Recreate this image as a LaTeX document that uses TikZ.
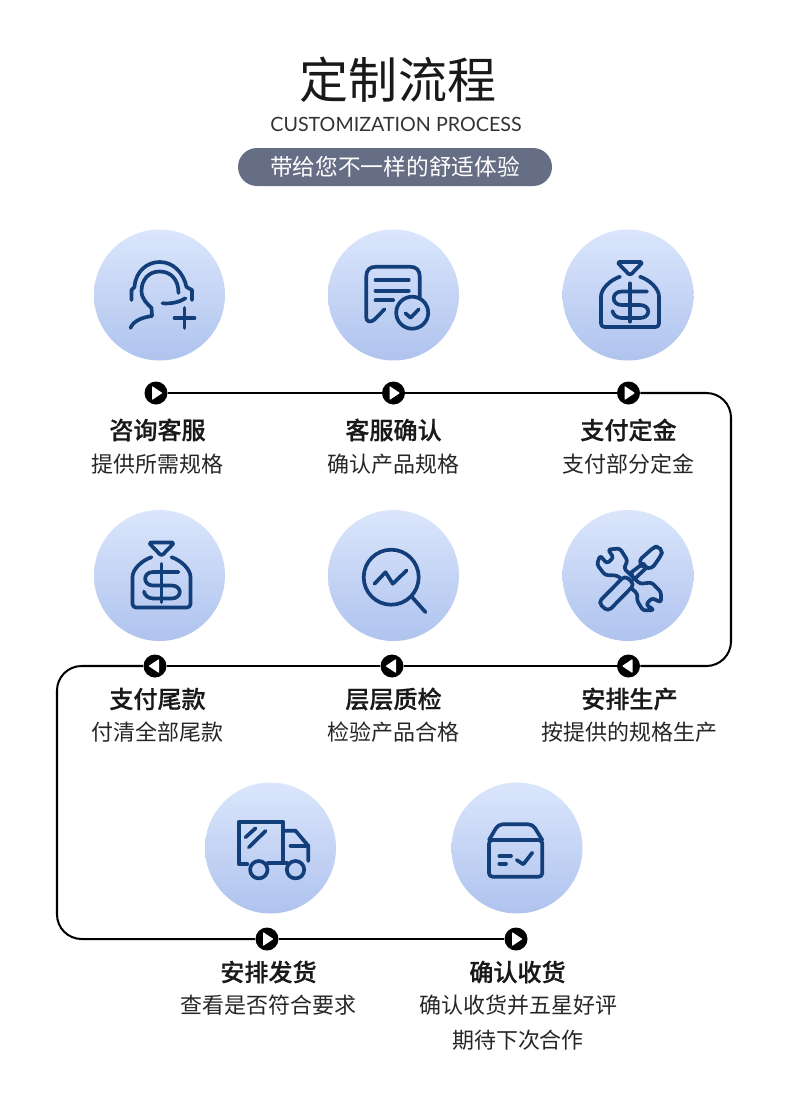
\documentclass[tikz,border=0pt]{standalone}
\usepackage{fontspec}
\usepackage{xcolor}
\setmainfont{Noto Sans CJK SC}
\newfontfamily\medfont[FakeBold=0.6]{Noto Sans CJK SC Medium}
\newfontfamily\enfont{Lato}
\usetikzlibrary{positioning, arrows.meta}
\definecolor{IconBlue}{RGB}{18,62,122}
\definecolor{DiscTop}{RGB}{219,230,252}
\definecolor{DiscBottom}{RGB}{175,195,238}
\definecolor{DiscMid}{RGB}{192,209,244}
\definecolor{PillGrey}{RGB}{102,110,133}
\tikzset{
  disc/.style={circle, minimum size=26.2mm, inner sep=0pt, top color=DiscTop, bottom color=DiscBottom},
  icon/.style={draw=IconBlue, line width=2.1pt, line cap=round, line join=round},
  flowdot/.style={circle, fill=black, minimum size=4.6mm, inner sep=0pt},
  dotright/.style={flowdot, path picture={\fill[white, rounded corners=0.4pt, shift={(path picture bounding box.center)}]
    (-4,-7) -- (6.5,0) -- (-4,7) -- cycle;}},
  dotleft/.style={flowdot, path picture={\fill[white, rounded corners=0.4pt, shift={(path picture bounding box.center)}]
    (4,-7) -- (-6.5,0) -- (4,7) -- cycle;}},
  flowline/.style={draw=black, line width=1.15pt, rounded corners=14pt},
  headtxt/.style={font=\medfont\fontsize{13.7}{16}\selectfont, text=black!90, inner sep=0pt},
  subtxt/.style={font=\fontsize{12.5}{15}\selectfont, text=black!85, inner sep=0pt},
  pics/iconhead/.style={code={
    \draw[icon] (-28,5) -- (-28,-5) -- (-25,-8) .. controls (-24,-24) and (-12,-33) .. (0,-33)
      .. controls (14,-33) and (24,-22) .. (27,-8) -- (32.5,-5) -- (32.5,5);
    \draw[icon] (19,-2) .. controls (19,-16) and (11,-23.5) .. (0,-23.5) .. controls (-11,-23.5) and (-18,-15) .. (-18,-4)
      .. controls (-18,4) and (-12,9) .. (-8,13) -- (-7.5,21) .. controls (-15,22) and (-26,25) .. (-29,33);
    \draw[icon] (3,8.3) .. controls (12,9) and (20,7) .. (26,3.3);
    \draw[icon] (15,23) -- (35,23) (25,13) -- (25,33);
  }},
  pics/icondoc/.style={code={
    \draw[icon] (-9,14.3) -- (-19,24.5) .. controls (-23,28) and (-27.3,27) .. (-27.3,22) -- (-27.3,-18)
      .. controls (-27.3,-25) and (-24,-28.3) .. (-17,-28.3) -- (16,-28.3)
      .. controls (23,-28.3) and (26.3,-25) .. (26.3,-18) -- (26.3,3.3);
    \draw[icon] (-18,-15) -- (15.3,-15) (-18,-4.3) -- (15.3,-4.3) (-18,5.3) -- (-0.3,5.3);
    \draw[icon] (18.7,17.7) circle[radius=16];
    \draw[icon] (12,18.3) -- (17,22.7) -- (25.3,14.3);
  }},
  pics/iconbag/.style={code={
    \draw[icon, rounded corners=1.5pt] (-11,-33) -- (15,-33) -- (2,-19.5) -- cycle;
    \draw[icon, rounded corners=2pt] (-8,-18.3) .. controls (-18,-15) and (-27,-6) .. (-27,5) -- (-27,32)
      -- (31,32) -- (31,5) .. controls (31,-6) and (22,-15) .. (12,-18.3);
    \draw[icon] (2,-11.7) -- (2,26.7);
    \draw[icon] (19,-3.5) -- (-6.3,-3.5) .. controls (-17,-3.5) and (-17,10) .. (-6.3,10) -- (12,10)
      .. controls (23,10) and (23,23) .. (12,23) -- (-6,23) .. controls (-11,23) and (-15,20) .. (-15.5,16);
  }},
  pics/iconlens/.style={code={
    \draw[icon] (-2.3,1.7) circle[radius=27.5];
    \draw[icon] (18.7,21.7) -- (32,36.7);
    \draw[icon] (-19,8.3) -- (-8,-3.3) -- (-0.7,8.3) -- (13,-5);
  }},
  pics/icontools/.style={code={
    \draw[icon, rounded corners=1.5pt] (-20,-26) -- (-8,-27) -- (-0.5,-15) -- (-4,-7) -- (12,8.3)
      -- (23.7,7) -- (33,16.7) -- (33,27) -- (24,22.5) -- (18,29) -- (26,34.5) -- (15,35)
      -- (9,25) -- (9.5,18.3) -- (-10.7,0) -- (-23,-0.5) -- (-31,-11) -- (-28,-20)
      -- (-21,-12) -- (-14.5,-18) -- cycle;
    \draw[icon, fill=DiscMid, rounded corners=2.5pt] (-29.7,27) -- (-3,0) -- (6.5,9) -- (-20,36) -- cycle;
    \draw[icon, fill=DiscMid] (3,-3) -- (15,-12) -- (18.7,-8) -- (6,4) -- cycle;
    \draw[icon, rounded corners=2pt] (14,-9) -- (11,-15) -- (26,-28.5) -- (30,-29) -- (34.5,-24.5)
      -- (33,-20) -- (24,-7) -- (17,-8);
  }},
  pics/icontruck/.style={code={
    \draw[icon] (-23.3,16) -- (-31.7,16) -- (-31.7,-26.3) -- (12.7,-26.3) -- (12.7,15.3) -- (-2.7,15.3);
    \draw[icon] (12.7,-17.3) -- (25,-17.3) -- (37.7,-2.3) -- (37.7,13);
    \draw[icon] (20,-2.3) -- (37.7,-2.3) (12.7,15.3) -- (16.7,15.3);
    \draw[icon] (-11.7,21.7) circle[radius=8.7] (25,21.7) circle[radius=8.7];
    \draw[icon] (-25,-10.7) -- (-15,-19.7) (-21.7,-0.7) -- (-5,-17);
  }},
  pics/iconbox/.style={code={
    \draw[icon, rounded corners=2pt] (-28,-8) -- (25.3,-8) -- (25.3,28.7) -- (-28,28.7) -- cycle;
    \draw[icon, rounded corners=2.5pt] (-28,-8) -- (-18.7,-23.7) -- (15.7,-23.7) -- (25.3,-8);
    \draw[icon] (-17.7,8) -- (-6,8) (-17.7,15.7) -- (-11,15.7);
    \draw[icon] (-0.3,12) -- (6.3,16.3) -- (15.3,4.7);
  }},
}

\begin{document}
\begin{tikzpicture}[x=0.2mm, y=-0.2mm]
  \useasboundingbox (0,0) rectangle (790,1104);
  % heading
  \node[font=\fontsize{27.9}{32}\selectfont, text=black!90, inner sep=0pt] (title) at (398,80) {定制流程};
  \node[font=\enfont\fontsize{11.2}{14}\selectfont, text=black!80, inner sep=0pt] (entitle) at (396,124) {CUSTOMIZATION PROCESS};
  \node[fill=PillGrey, rounded corners=10.8pt, minimum width=62.8mm, minimum height=7.6mm, inner sep=0pt,
    font=\fontsize{12.9}{15}\selectfont, text=white] (pill) at (395,167) {带给您不一样的舒适体验};
  % discs and icons
  \foreach \x/\y/\ic [count=\k from 1] in {159.5/295/iconhead,393.5/295/icondoc,628/295/iconbag,
      628/575.5/icontools,393.5/575.5/iconlens,159.5/575.5/iconbag,270.5/848/icontruck,517/848/iconbox}
  {
    \node[disc] (disc\k) at (\x,\y) {};
    \pic at (disc\k.center) {\ic};
  }
  % dots on the line
  \foreach \x/\y/\st [count=\k from 1] in {156/393/dotright,393.5/393/dotright,628.5/393/dotright,
      628.5/666/dotleft,392/666/dotleft,155/666/dotleft,267/939/dotright,516/939/dotright}
    \node[\st] (dot\k) at (\x,\y) {};
  \coordinate (turnNE) at (731,393);
  \coordinate (turnE) at (731,666);
  \coordinate (turnW) at (57,666);
  \coordinate (turnS) at (57,939);
  \draw[flowline] (dot1) -- (dot2);
  \draw[flowline] (dot2) -- (dot3);
  \draw[flowline] (dot3) -- (turnNE) -- (turnE) -- (dot4);
  \draw[flowline] (dot4) -- (dot5);
  \draw[flowline] (dot5) -- (dot6);
  \draw[flowline] (dot6) -- (turnW) -- (turnS) -- (dot7);
  \draw[flowline] (dot7) -- (dot8);
  % labels
  \foreach \x/\y/\t [count=\k from 1] in {157.5/430/咨询客服,393.5/430/客服确认,628.5/430/支付定金,
      629.5/699/安排生产,393.5/699/层层质检,157.5/699/支付尾款,268.5/972/安排发货,517.5/972/确认收货}
    \node[headtxt] (head\k) at (\x,\y) {\t};
  \foreach \x/\y/\t [count=\k from 1] in {157.5/464/提供所需规格,393.5/464/确认产品规格,628.5/464/支付部分定金,
      629.5/732/按提供的规格生产,393.5/732/检验产品合格,157.5/732/付清全部尾款,268.5/1005/查看是否符合要求,
      518.5/1005/确认收货并五星好评,518/1040/期待下次合作}
    \node[subtxt] (sub\k) at (\x,\y) {\t};
\end{tikzpicture}
\end{document}
